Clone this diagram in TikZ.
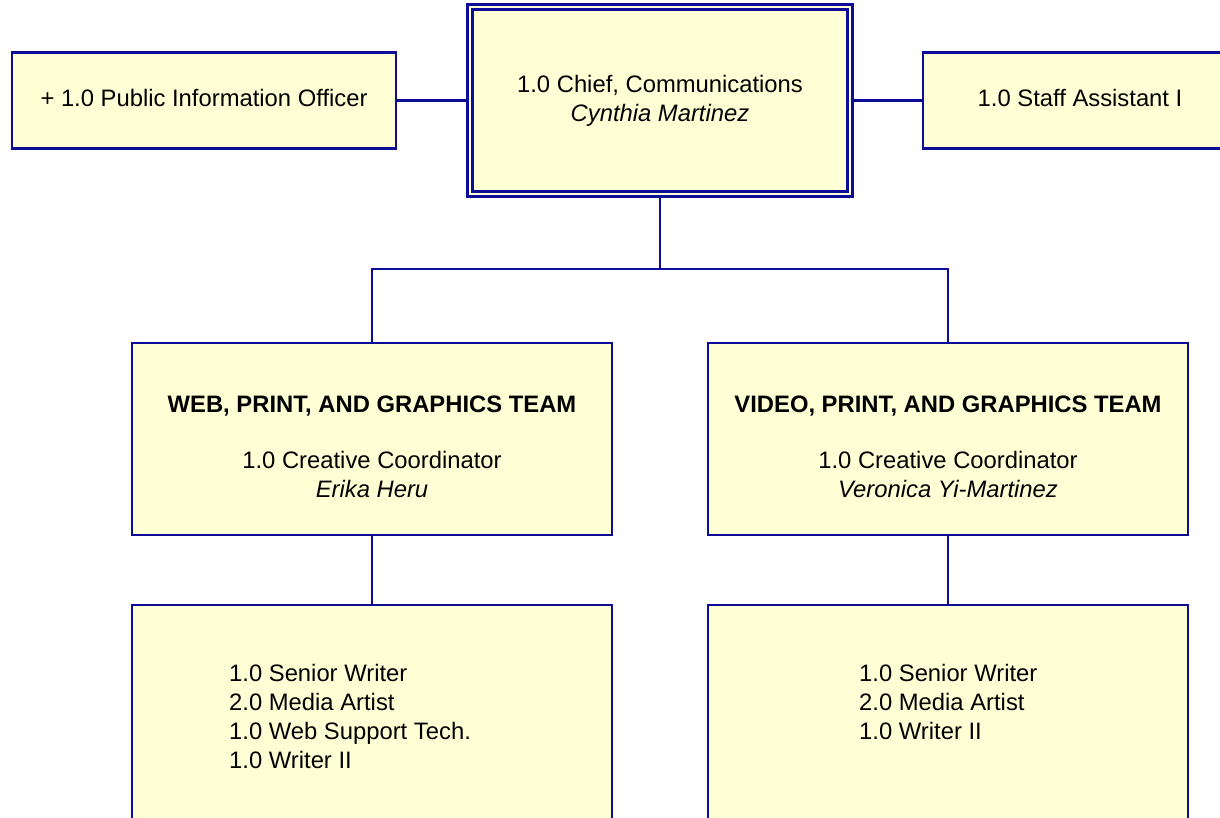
\documentclass[tikz,border=0pt]{standalone}
\usepackage{fontspec}
\setmainfont{Liberation Sans}
\definecolor{boxfill}{RGB}{255,255,213}
\definecolor{navy}{RGB}{12,12,150}
\begin{document}
\begin{tikzpicture}[x=1pt,y=-1pt,
  box/.style={draw=navy,fill=boxfill,line width=2.6pt,inner sep=0pt,rectangle},
  dbox/.style={draw=navy,fill=boxfill,line width=2.2pt,double=boxfill,double distance=2.8pt,inner sep=0pt,rectangle},
  conn/.style={draw=navy,line width=2.2pt},
  lbl/.style={font=\fontsize{23.8}{29}\selectfont,text=black,inner sep=0pt,align=center},
  lbll/.style={lbl,align=left,anchor=west}]
\useasboundingbox (0,0) rectangle (1220,818);
\clip (0,0) rectangle (1220,818);
\fill[white] (0,0) rectangle (1220,818);
% boxes
\node[dbox,minimum width=380pt,minimum height=187pt] (chief) at (660,100.5) {};
\node[box,minimum width=384pt,minimum height=96pt] (pio) at (204,100.5) {};
\node[box,minimum width=384pt,minimum height=96pt] (staff) at (1115,100.5) {};
\node[box,minimum width=480pt,minimum height=192pt] (webteam) at (372,439) {};
\node[box,minimum width=480pt,minimum height=192pt] (vidteam) at (948,439) {};
\node[box,minimum width=480pt,minimum height=240pt] (webstaff) at (372,725) {};
\node[box,minimum width=480pt,minimum height=240pt] (vidstaff) at (948,725) {};
% connectors
\draw[conn] (pio.east) -- (pio.east -| chief.west);
\draw[conn] (chief.east) -- (chief.east -| staff.west);
\coordinate (junc) at (660,269);
\draw[conn] (chief.south) -- (junc);
\draw[conn] (webteam.north) |- (junc) -| (vidteam.north);
\draw[conn] (webteam.south) -- (webstaff.north);
\draw[conn] (vidteam.south) -- (vidstaff.north);
% texts
\node[lbl] (chieftxt) at (660,101) {1.0 Chief, Communications\\\textit{Cynthia Martinez}};
\node[lbl] (piotxt) at (204,97.5) {+ 1.0 Public Information Officer};
\node[lbl] (stafftxt) at (1080,97.5) {1.0 Staff Assistant I};
\node[lbl,font=\fontsize{23.8}{29}\selectfont\bfseries] (webtitle) at (372,406) {WEB, PRINT, AND GRAPHICS TEAM};
\node[lbl] (webcoord) at (372,474) {1.0 Creative Coordinator\\\textit{Erika Heru}};
\node[lbl,font=\fontsize{23.8}{29}\selectfont\bfseries] (vidtitle) at (948,406) {VIDEO, PRINT, AND GRAPHICS TEAM};
\node[lbl] (vidcoord) at (948,474) {1.0 Creative Coordinator\\\textit{Veronica Yi-Martinez}};
\node[lbll] (webstafftxt) at (229,716.5) {1.0 Senior Writer\\2.0 Media Artist\\1.0 Web Support Tech.\\1.0 Writer II};
\node[lbll] (vidstafftxt) at (859,702) {1.0 Senior Writer\\2.0 Media Artist\\1.0 Writer II};
\end{tikzpicture}
\end{document}
